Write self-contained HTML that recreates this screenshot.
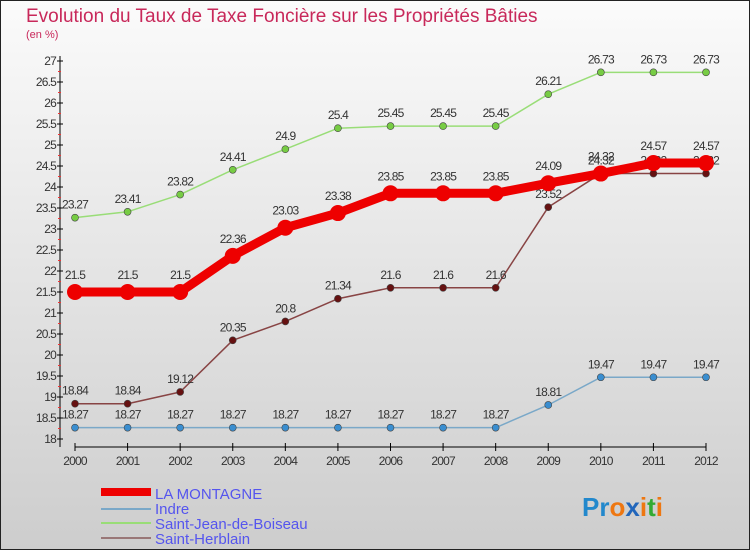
<!DOCTYPE html>
<html><head><meta charset="utf-8"><style>
body{margin:0}
svg text{font-family:"Liberation Sans",sans-serif}
</style></head><body>
<svg id="c" width="750" height="550" xmlns="http://www.w3.org/2000/svg">
<defs><linearGradient id="bg" x1="0" y1="0" x2="0" y2="1"><stop offset="0" stop-color="#fbfbfb"/><stop offset="1" stop-color="#cdcdcd"/></linearGradient></defs>
<rect x="0.5" y="0.5" width="749" height="549" fill="url(#bg)" stroke="#222"/>
<text x="26" y="22" font-size="19" fill="#c8285a">Evolution du Taux de Taxe Foncière sur les Propriétés Bâties</text>
<text x="26" y="38" font-size="11" fill="#c8285a">(en %)</text>
<g id="axes"></g><g id="series"></g>
<g>
<rect x="101" y="488" width="50" height="8" fill="#ee0000"/>
<text x="155" y="499" font-size="15" fill="#5555ee">LA MONTAGNE</text>
<rect x="101" y="508" width="50" height="2" fill="#7aa8c8"/>
<text x="155" y="514" font-size="15" fill="#5555ee">Indre</text>
<rect x="101" y="522" width="50" height="2" fill="#99dd77"/>
<text x="155" y="529" font-size="15" fill="#5555ee">Saint-Jean-de-Boiseau</text>
<rect x="101" y="537" width="50" height="2" fill="#997777"/>
<text x="155" y="544" font-size="15" fill="#5555ee">Saint-Herblain</text>
</g>
<g font-size="26" font-weight="bold">
<text x="582" y="516"><tspan fill="#2288cc">Pr</tspan><tspan fill="#ee7711">o</tspan><tspan fill="#2266bb">x</tspan><tspan fill="#ee7711">i</tspan><tspan fill="#33aa33">t</tspan><tspan fill="#ee7711">i</tspan></text>
</g>
</svg>
<script>
const years=[2000,2001,2002,2003,2004,2005,2006,2007,2008,2009,2010,2011,2012];
const yTicks=[18,18.5,19,19.5,20,20.5,21,21.5,22,22.5,23,23.5,24,24.5,25,25.5,26,26.5,27];
const laMontagne=[21.5,21.5,21.5,22.36,23.03,23.38,23.85,23.85,23.85,24.09,24.32,24.57,24.57];
const indre=[18.27,18.27,18.27,18.27,18.27,18.27,18.27,18.27,18.27,18.81,19.47,19.47,19.47];
const saintJean=[23.27,23.41,23.82,24.41,24.9,25.4,25.45,25.45,25.45,26.21,26.73,26.73,26.73];
const saintHerblain=[18.84,18.84,19.12,20.35,20.8,21.34,21.6,21.6,21.6,23.52,24.32,24.32,24.32];
const NS="http://www.w3.org/2000/svg";
const x=i=>75+i*(706-75)/(years.length-1);
const y=v=>439-(v-18)*(439-61)/9;
function mk(t,a,p){const e=document.createElementNS(NS,t);for(const k in a)e.setAttribute(k,a[k]);p.appendChild(e);return e;}
const ax=document.getElementById('axes');
let e=mk('line',{x1:60,y1:56,x2:60,y2:447,stroke:'#000'},ax);


yTicks.forEach((v,k)=>{
 mk('line',{x1:57,y1:y(v),x2:63,y2:y(v),stroke:'#000'},ax);
 if(k<yTicks.length-1) mk('line',{x1:58,y1:y(v+0.25),x2:61,y2:y(v+0.25),stroke:'#e33'},ax);
 const t=mk('text',{x:56,y:y(v)+4,'font-size':12,fill:'#333','text-anchor':'end','letter-spacing':'-0.8'},ax);
 t.textContent=v;
 
 
});
e=mk('line',{x1:75,y1:447,x2:706,y2:447,stroke:'#000'},ax);


years.forEach((yr,i)=>{
 mk('line',{x1:x(i),y1:443,x2:x(i),y2:451,stroke:'#000'},ax);
 const t=mk('text',{x:x(i),y:465,'font-size':12,fill:'#333','text-anchor':'middle','letter-spacing':'-0.8'},ax);
 t.textContent=yr;
 
 
});
const sg=document.getElementById('series');
function draw(vals,color,dot,w,r,name){
 const g=mk('g',{},sg);
 
 
 const l=mk('polyline',{points:vals.map((v,i)=>x(i)+','+y(v)).join(' '),fill:'none',stroke:color,'stroke-width':w,'stroke-linejoin':'round'},g);
 
 
 vals.forEach((v,i)=>{
  const c=mk('circle',{cx:x(i),cy:y(v),r:r,fill:dot,stroke:'#444','stroke-width':r>5?0:0.6},g);
  
  
  const t=mk('text',{x:x(i),y:y(v)-(r>5?13:9),'font-size':12,fill:'#333','text-anchor':'middle','letter-spacing':'-0.8'},g);
  t.textContent=v;
  
  
 });
}
draw(indre,'#7aa8c8','#3a8ed0',1.5,3.5,'series-indre');
draw(saintJean,'#99dd77','#77cc44',1.5,3.5,'series-saint-jean-de-boiseau');
draw(saintHerblain,'#884444','#661111',1.5,3.5,'series-saint-herblain');
draw(laMontagne,'#ee0000','#ee0000',9,8,'series-la-montagne');
</script>
</body></html>
